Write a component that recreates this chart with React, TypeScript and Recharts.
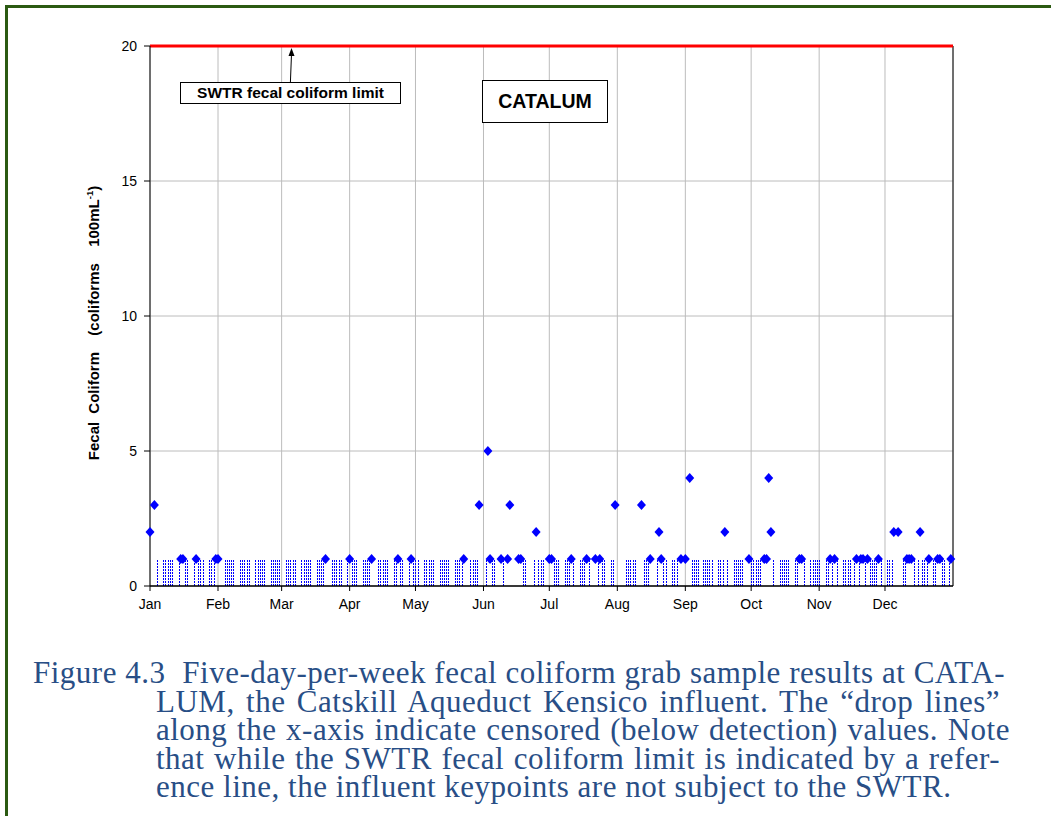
import {
  ComposedChart,
  Scatter,
  XAxis,
  YAxis,
  CartesianGrid,
  ReferenceLine,
} from 'recharts';

// Day of year (0 = Jan 1) where each month starts
const monthStarts = [0, 31, 60, 91, 121, 152, 182, 213, 244, 274, 305, 335];
const monthLabels = ['Jan', 'Feb', 'Mar', 'Apr', 'May', 'Jun', 'Jul', 'Aug', 'Sep', 'Oct', 'Nov', 'Dec'];

const yTicks = [0, 5, 10, 15, 20];
const yMinorTicks = [1, 2, 3, 4, 6, 7, 8, 9, 11, 12, 13, 14, 16, 17, 18, 19];

const swtrLimit = 20;
const detectionLimit = 1;

// Samples with a detected count
const detectedDays = [
  0, 2, 14, 15, 21, 30, 31, 80, 91, 101, 113, 119, 143, 150, 154, 155, 160, 163, 164,
  168, 169, 176, 182, 183, 192, 199, 203, 205, 212, 224, 228, 232, 233, 242, 244, 246,
  262, 273, 280, 281, 282, 283, 296, 297, 310, 312, 322, 324, 325, 327, 332, 339, 341,
  345, 346, 347, 351, 355, 359, 360, 365,
];
const detectedValues = [
  2, 3, 1, 1, 1, 1, 1, 1, 1, 1, 1, 1, 1, 3, 5, 1, 1, 1, 3,
  1, 1, 2, 1, 1, 1, 1, 1, 1, 3, 3, 1, 2, 1, 1, 1, 4,
  2, 1, 1, 1, 4, 2, 1, 1, 1, 1, 1, 1, 1, 1, 1, 2, 2,
  1, 1, 1, 2, 1, 1, 1, 1,
];

// Samples below detection (drawn as drop lines)
const censoredDays = [
  3, 6, 7, 8, 9, 10, 13, 16, 17, 20, 22, 23, 24, 27, 28, 29,
  34, 35, 36, 37, 38, 41, 42, 43, 44, 45, 48, 49, 50, 51, 52, 55, 56, 57, 58, 59,
  62, 63, 64, 65, 66, 69, 70, 71, 72, 73, 76, 77, 78, 79, 83, 84, 85, 86, 87,
  90, 92, 93, 94, 97, 98, 99, 100, 104, 105, 106, 107, 108, 111, 112, 114, 115, 118, 120, 121, 122,
  125, 126, 127, 128, 129, 132, 133, 134, 135, 136, 139, 140, 141, 142, 146, 147, 148, 149,
  153, 156, 157, 161, 170, 171, 175, 177, 178, 179,
  184, 185, 186, 189, 190, 191, 193, 196, 197, 198, 200, 204, 206, 207, 210, 211,
  217, 218, 219, 220, 221, 225, 226, 227, 231, 234, 235, 238, 239, 240,
  247, 248, 249, 250, 252, 253, 254, 255, 256, 259, 260, 261, 263, 266, 267, 268, 269, 270,
  274, 275, 276, 277, 278, 284, 287, 288, 289, 290, 291, 294, 295, 298, 301, 302, 303, 304, 305,
  308, 309, 311, 313, 316, 317, 318, 319, 321, 323, 326, 328, 329, 330, 331, 333, 336, 337, 338,
  343, 344, 348, 350, 352, 353, 354, 357, 358, 361, 362, 364,
];

const detected = detectedDays.map((day, i) => ({ day, fc: detectedValues[i] }));

const BLUE = '#0000ff';
const FRAME = '#2b5a12';
const AXIS_FONT = 'Arial, "Liberation Sans", sans-serif';

const Diamond = (props: any) => {
  const { cx, cy } = props;
  if (cx == null || cy == null) return null;
  return (
    <polygon
      points={`${cx},${cy - 5} ${cx + 4.5},${cy} ${cx},${cy + 5} ${cx - 4.5},${cy}`}
      fill={BLUE}
    />
  );
};

// dashed drop line, snapped to whole pixels
const DropLine = (props: any) => {
  const { x1, y1, x2, y2 } = props;
  const x = Math.round(x1) + 0.5;
  return (
    <line
      x1={x}
      y1={y1}
      x2={Math.round(x2) + 0.5}
      y2={y2}
      stroke={BLUE}
      strokeWidth={1}
      strokeDasharray="2 1"
    />
  );
};

// small arrow from the label box up to the limit line
const Arrow = (props: any) => {
  const { x1, y1, x2, y2 } = props;
  return (
    <g>
      <line x1={x1} y1={y1} x2={x2} y2={y2 + 6} stroke="#000" strokeWidth={1} />
      <polygon points={`${x2},${y2} ${x2 + 3},${y2 + 8} ${x2 - 3},${y2 + 8}`} fill="#000" />
    </g>
  );
};

const captionLines = [
  'LUM, the Catskill Aqueduct Kensico influent. The \u201cdrop lines\u201d',
  'along the x-axis indicate censored (below detection) values. Note',
  'that while the SWTR fecal coliform limit is indicated by a refer-',
];
const captionRightEdges = [1000, 1010, 1000];

export default function App() {
  const captionStyle: React.CSSProperties = {
    position: 'absolute',
    fontFamily: '"Liberation Serif", "Times New Roman", serif',
    fontSize: 31,
    letterSpacing: 0.5,
    lineHeight: '28.5px',
    color: '#284e86',
    whiteSpace: 'nowrap',
  };
  const captionTop = 659;

  return (
    <div
      style={{
        position: 'absolute',
        left: 0,
        top: 0,
        width: 1051,
        height: 816,
        overflow: 'hidden',
        background: '#fff',
      }}
    >
      <div style={{ position: 'absolute', left: 0, top: 0 }}>
        <ComposedChart
          width={1000}
          height={630}
          margin={{ top: 46, right: 47, bottom: 14, left: 90 }}
        >
          <CartesianGrid stroke="#bcbcbc" strokeWidth={1} />
          <XAxis
            dataKey="day"
            type="number"
            domain={[0, 366]}
            ticks={monthStarts}
            interval={0}
            tickFormatter={(v: number) => monthLabels[monthStarts.indexOf(v)]}
            tickSize={5}
            tickMargin={8}
            height={30}
            axisLine={{ stroke: '#000', strokeWidth: 1.5 }}
            tickLine={{ stroke: '#000' }}
            tick={{ fill: '#000', fontSize: 14, fontFamily: AXIS_FONT }}
          />
          <YAxis
            type="number"
            domain={[0, 20]}
            ticks={yTicks}
            interval={0}
            width={60}
            tickSize={6}
            tickMargin={7}
            axisLine={{ stroke: '#000', strokeWidth: 1 }}
            tickLine={{ stroke: '#000' }}
            tick={{ fill: '#000', fontSize: 14, fontFamily: AXIS_FONT }}
          />
          <YAxis
            yAxisId="minor"
            type="number"
            domain={[0, 20]}
            ticks={yMinorTicks}
            interval={0}
            width={0}
            mirror
            tickSize={4}
            axisLine={false}
            tickLine={{ stroke: '#000' }}
            tick={false}
          />
          <ReferenceLine x={366} stroke="#000" strokeWidth={1} />
          {censoredDays.map((d) => (
            <ReferenceLine
              key={`c${d}`}
              segment={[
                { x: d, y: 0 },
                { x: d, y: detectionLimit },
              ]}
              shape={DropLine}
            />
          ))}
          <ReferenceLine y={swtrLimit} stroke="#ff0000" strokeWidth={3} />
          <ReferenceLine
            segment={[
              { x: 64, y: 18.66 },
              { x: 64.5, y: 19.93 },
            ]}
            shape={Arrow}
          />
          <Scatter
            data={detected}
            dataKey="fc"
            fill={BLUE}
            shape={Diamond}
            isAnimationActive={false}
          />
        </ComposedChart>
      </div>

      {/* y-axis title */}
      <div
        style={{
          position: 'absolute',
          left: 93,
          top: 323,
          transform: 'translate(-50%, -50%) rotate(-90deg)',
          fontFamily: AXIS_FONT,
          fontWeight: 'bold',
          fontSize: 15,
          whiteSpace: 'nowrap',
          color: '#000',
          wordSpacing: 4,
        }}
      >
        Fecal Coliform&nbsp; (coliforms&nbsp; 100mL<sup style={{ fontSize: 9.5 }}>-1</sup>)
      </div>

      {/* limit label */}
      <div
        style={{
          position: 'absolute',
          left: 180,
          top: 82,
          width: 221,
          height: 22,
          boxSizing: 'border-box',
          border: '1px solid #000',
          background: '#fff',
          fontFamily: AXIS_FONT,
          fontWeight: 'bold',
          fontSize: 15.5,
          lineHeight: '20px',
          textAlign: 'center',
        }}
      >
        SWTR fecal coliform limit
      </div>

      {/* site label */}
      <div
        style={{
          position: 'absolute',
          left: 482,
          top: 80,
          width: 126,
          height: 43,
          boxSizing: 'border-box',
          border: '1px solid #000',
          background: '#fff',
          fontFamily: AXIS_FONT,
          fontWeight: 'bold',
          fontSize: 19.5,
          lineHeight: '41px',
          textAlign: 'center',
        }}
      >
        CATALUM
      </div>

      {/* caption */}
      <div
        style={{ ...captionStyle, left: 33, top: captionTop, width: 972, textAlignLast: 'justify' }}
      >
        Figure 4.3&nbsp; Five-day-per-week fecal coliform grab sample results at CATA-
      </div>
      {captionLines.map((line, i) => (
        <div
          key={i}
          style={{
            ...captionStyle,
            left: 156,
            top: captionTop + 28.5 * (i + 1),
            width: captionRightEdges[i] - 156,
            textAlignLast: 'justify',
            whiteSpace: 'normal',
          }}
        >
          {line}
        </div>
      ))}
      <div style={{ ...captionStyle, left: 156, top: captionTop + 28.5 * 4 }}>
        ence line, the influent keypoints are not subject to the SWTR.
      </div>

      {/* page frame */}
      <div
        style={{ position: 'absolute', left: 5, top: 5, width: 1046, height: 3, background: FRAME, zIndex: 10 }}
      />
      <div
        style={{ position: 'absolute', left: 5, top: 5, width: 3, height: 811, background: FRAME, zIndex: 10 }}
      />
    </div>
  );
}
